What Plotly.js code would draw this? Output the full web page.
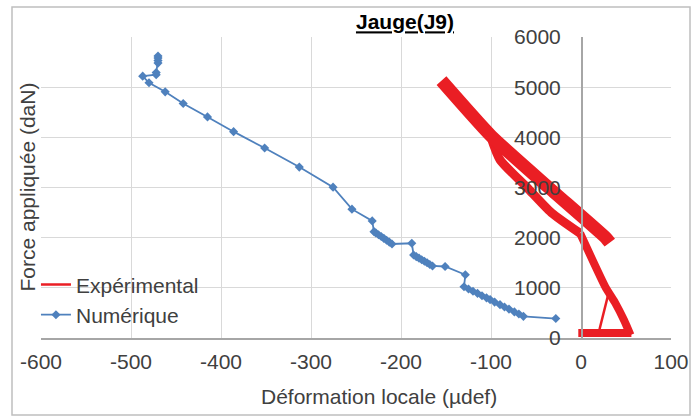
<!DOCTYPE html>
<html>
<head>
<meta charset="utf-8">
<script src="https://cdn.plot.ly/plotly-3.0.1.min.js"></script>
<style>
  html, body { margin: 0; padding: 0; background: #ffffff; }
  #chart { width: 694px; height: 419px; }
</style>
</head>
<body>
<div id="chart"></div>
<script>
// ---- Data ----
// Numérique (simulation) : déformation (µdef) vs force (daN)
var numX = [-28, -64, -69, -74, -80, -85, -90, -96, -101, -105, -110, -115, -120, -125, -130,
            -128.5, -151, -165, -168, -171, -174, -177, -180, -183, -186, -188,
            -210, -213, -216, -219, -222, -225, -228, -230, -232, -254.5, -275.5,
            -313, -351.5, -386, -415, -442, -462, -480, -487, -472, -472, -470, -470, -470, -470];
var numY = [388, 432, 478, 520, 576, 618, 665, 716, 765, 800, 842, 890, 932, 978, 1022,
            1260, 1425, 1436, 1466, 1500, 1530, 1560, 1592, 1622, 1654, 1888,
            1874, 1912, 1950, 1985, 2022, 2058, 2095, 2120, 2334, 2568, 3007,
            3407, 3787, 4113, 4407, 4673, 4907, 5087, 5220, 5250, 5290, 5480, 5530, 5580, 5620];

// Expérimental : bande de déchargement (haute)
var expUpX = [-155, -100, -36, 28, 32];
var expUpY = [5130, 4030, 3000, 1990, 1900];
// Expérimental : branche de chargement (gauche)
var expLoX = [-100, -90, -60, -33, -1];
var expLoY = [4000, 3554, 3000, 2500, 2088];
// Expérimental : branche basse
var expBaseX = [-1, 27, 38, 48, 55];
var expBaseY = [2088, 1020, 700, 350, 60];
// Expérimental : palier initial
var expStartX = [-3, 56];
var expStartY = [100, 100];
// Expérimental : trait fin du triangle
var expThinX = [20, 27, 30];
var expThinY = [130, 620, 850];

// Tick labels
var xTickVals = [-600, -500, -400, -300, -200, -100, 0, 100];
var xTickText = ['-600', '-500', '-400', '-300', '-200', '-100', '0', '100'];
var yTickVals = [0, 1000, 2000, 3000, 4000, 5000, 6000];
var yTickText = ['0', '1000', '2000', '3000', '4000', '5000', '6000'];

var red = 'rgb(234,30,36)';
var blue = '#4F81BD';
var font = 'Liberation Sans, Arial, sans-serif';
var textCol = '#404040';

var traces = [
  { x: expThinX, y: expThinY, type: 'scatter', mode: 'lines', name: 'Expérimental',
    legendgroup: 'exp', line: { color: red, width: 2.5 } },
  { x: expLoX, y: expLoY, type: 'scatter', mode: 'lines', showlegend: false,
    legendgroup: 'exp', line: { color: red, width: 9, shape: 'spline', smoothing: 0.6 } },
  { x: expBaseX, y: expBaseY, type: 'scatter', mode: 'lines', showlegend: false,
    legendgroup: 'exp', line: { color: red, width: 8, shape: 'spline', smoothing: 0.5 } },
  { x: expStartX, y: expStartY, type: 'scatter', mode: 'lines', showlegend: false,
    legendgroup: 'exp', line: { color: red, width: 8 } },
  { x: expUpX, y: expUpY, type: 'scatter', mode: 'lines', showlegend: false,
    legendgroup: 'exp', line: { color: red, width: 13, shape: 'spline', smoothing: 0.5 } },
  { x: numX, y: numY, type: 'scatter', mode: 'lines+markers', name: 'Numérique',
    line: { color: blue, width: 1.8 },
    marker: { color: blue, size: 7, symbol: 'diamond' } }
];

var layout = {
  width: 694, height: 419,
  margin: { l: 41, r: 23, t: 37, b: 81, pad: 0 },
  paper_bgcolor: '#ffffff', plot_bgcolor: '#ffffff',
  font: { family: font, size: 21, color: textCol },
  title: { text: '<b><u>Jauge(J9)</u></b>', font: { family: font, size: 21, color: '#000000' },
           x: 405 / 694, xref: 'container', xanchor: 'center',
           y: 1 - 22 / 419, yref: 'container', yanchor: 'middle' },
  showlegend: true,
  legend: { x: -0.008, xanchor: 'left', y: 0.245, yanchor: 'top', bgcolor: 'rgba(0,0,0,0)',
            font: { family: font, size: 21, color: textCol }, tracegroupgap: 0 },
  xaxis: {
    range: [-600, 100], tickmode: 'array', tickvals: xTickVals, ticktext: xTickText, ticks: '',
    showgrid: true, gridcolor: '#d9d9d9', gridwidth: 1,
    zeroline: false, showline: true, linecolor: '#a6a6a6', linewidth: 1.5,
    tickfont: { family: font, size: 21, color: textCol }, ticklabelstandoff: 4
  },
  yaxis: {
    range: [0, 6000], tickmode: 'array', tickvals: yTickVals, ticktext: yTickText, ticks: '',
    anchor: 'free', position: 600 / 700, side: 'left',
    showgrid: true, gridcolor: '#d9d9d9', gridwidth: 1,
    zeroline: false, showline: true, linecolor: '#a6a6a6', linewidth: 1.5,
    tickfont: { family: font, size: 21, color: textCol }, ticklabelstandoff: 16
  },
  annotations: [
    { text: 'Déformation locale (µdef)', xref: 'paper', yref: 'paper',
      x: (378.6 - 41) / 630, y: (338 - 396.7) / 301, xanchor: 'center', yanchor: 'middle',
      showarrow: false, font: { family: font, size: 21, color: textCol } },
    { text: 'Force appliquée (daN)', xref: 'paper', yref: 'paper', textangle: -90,
      x: (27 - 41) / 630, y: (338 - 187.5) / 301, xanchor: 'center', yanchor: 'middle',
      showarrow: false, font: { family: font, size: 21, color: textCol } }
  ],
  shapes: [
    { type: 'rect', xref: 'paper', yref: 'paper', layer: 'below',
      x0: (12 - 41) / 630, x1: (690 - 41) / 630, y0: (338 - 415) / 301, y1: (338 - 7) / 301,
      line: { color: '#bfbfbf', width: 1.5 }, fillcolor: 'rgba(0,0,0,0)' }
  ]
};

Plotly.newPlot('chart', traces, layout, { displayModeBar: false, staticPlot: true });
</script>
</body>
</html>
